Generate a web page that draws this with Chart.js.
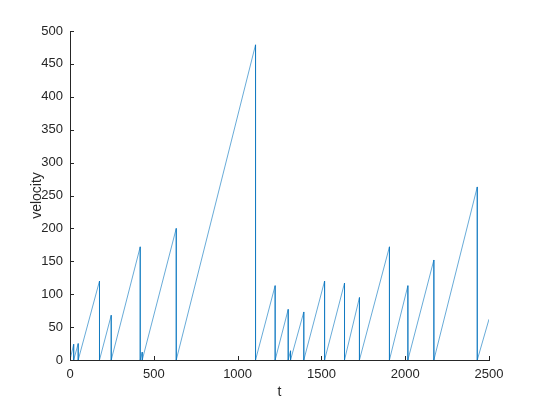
<!DOCTYPE html>
<html>
<head>
<meta charset="utf-8">
<script src="https://cdn.jsdelivr.net/npm/chart.js@4/dist/chart.umd.min.js"></script>
<style>
  body { margin: 0; background: #fff; }
  canvas { display: block; }
</style>
</head>
<body>
<canvas id="chart" width="540" height="405"></canvas>
<script>
// sawtooth: each rise ends in a vertical drop back to 0
const tVals = [0, 22, 22, 49, 49, 176, 176, 246, 246, 419, 419, 431, 431, 634, 634, 1107, 1107,
    1224, 1224, 1302, 1302, 1316, 1316, 1395, 1395, 1519, 1519, 1638, 1638, 1727, 1727,
    1906, 1906, 2016, 2016, 2171, 2171, 2430, 2430, 2500];
const vVals = [0, 24, 0, 25, 0, 120, 0, 68, 0, 172, 0, 12, 0, 200, 0, 479, 0,
    113, 0, 77, 0, 14, 0, 73, 0, 120, 0, 117, 0, 95, 0,
    172, 0, 113, 0, 152, 0, 263, 0, 62];
const xTicks = [0, 500, 1000, 1500, 2000, 2500];
const yTicks = [0, 50, 100, 150, 200, 250, 300, 350, 400, 450, 500];

const axisColor = '#262626';
const fontFamily = "'Liberation Sans', Arial, sans-serif";

// matlab style ticks point into the plot
const innerTicks = {
    id: 'innerTicks',
    afterDraw(chart) {
        const ctx = chart.ctx;
        const { left, bottom } = chart.chartArea;
        const xs = chart.scales.x, ys = chart.scales.y;
        ctx.save();
        ctx.strokeStyle = axisColor;
        ctx.lineWidth = 1;
        ctx.beginPath();
        xTicks.forEach(v => {
            const px = Math.round(xs.getPixelForValue(v)) + 0.5;
            ctx.moveTo(px, bottom);
            ctx.lineTo(px, bottom - 4);
        });
        yTicks.forEach(v => {
            const py = Math.round(ys.getPixelForValue(v)) + 0.5;
            ctx.moveTo(left, py);
            ctx.lineTo(left + 4, py);
        });
        ctx.stroke();
        ctx.restore();
    }
};

new Chart(document.getElementById('chart'), {
    type: 'line',
    data: {
        datasets: [{
            data: tVals.map((t, i) => ({ x: t, y: vVals[i] })),
            borderColor: '#0072BD',
            borderWidth: 0.6,
            pointRadius: 0,
            tension: 0,
            fill: false
        }]
    },
    options: {
        responsive: false,
        animation: false,
        layout: { padding: { left: 0, top: 31, right: 51, bottom: 0 } },
        plugins: { legend: { display: false }, tooltip: { enabled: false } },
        scales: {
            x: {
                type: 'linear',
                min: 0,
                max: 2500,
                afterBuildTicks: s => { s.ticks = xTicks.map(v => ({ value: v })); },
                afterFit: s => { s.height = 45; },
                grid: { display: true, drawOnChartArea: false, drawTicks: false },
                border: { display: true, color: axisColor, width: 1 },
                ticks: { color: axisColor, padding: 7, maxRotation: 0, callback: v => String(v), font: { family: fontFamily, size: 13 } },
                title: { display: true, text: 't', color: axisColor, padding: { top: 0, bottom: 4.6 }, font: { family: fontFamily, size: 14 } }
            },
            y: {
                type: 'linear',
                min: 0,
                max: 500,
                afterBuildTicks: s => { s.ticks = yTicks.map(v => ({ value: v })); },
                afterFit: s => { s.width = 70; },
                grid: { display: true, drawOnChartArea: false, drawTicks: false },
                border: { display: true, color: axisColor, width: 1 },
                ticks: { color: axisColor, padding: 7, callback: v => String(v), font: { family: fontFamily, size: 13 } },
                title: { display: true, text: 'velocity', color: axisColor, padding: { top: 28.6, bottom: 0 }, font: { family: fontFamily, size: 14 } }
            }
        }
    },
    plugins: [innerTicks]
});
</script>
</body>
</html>
